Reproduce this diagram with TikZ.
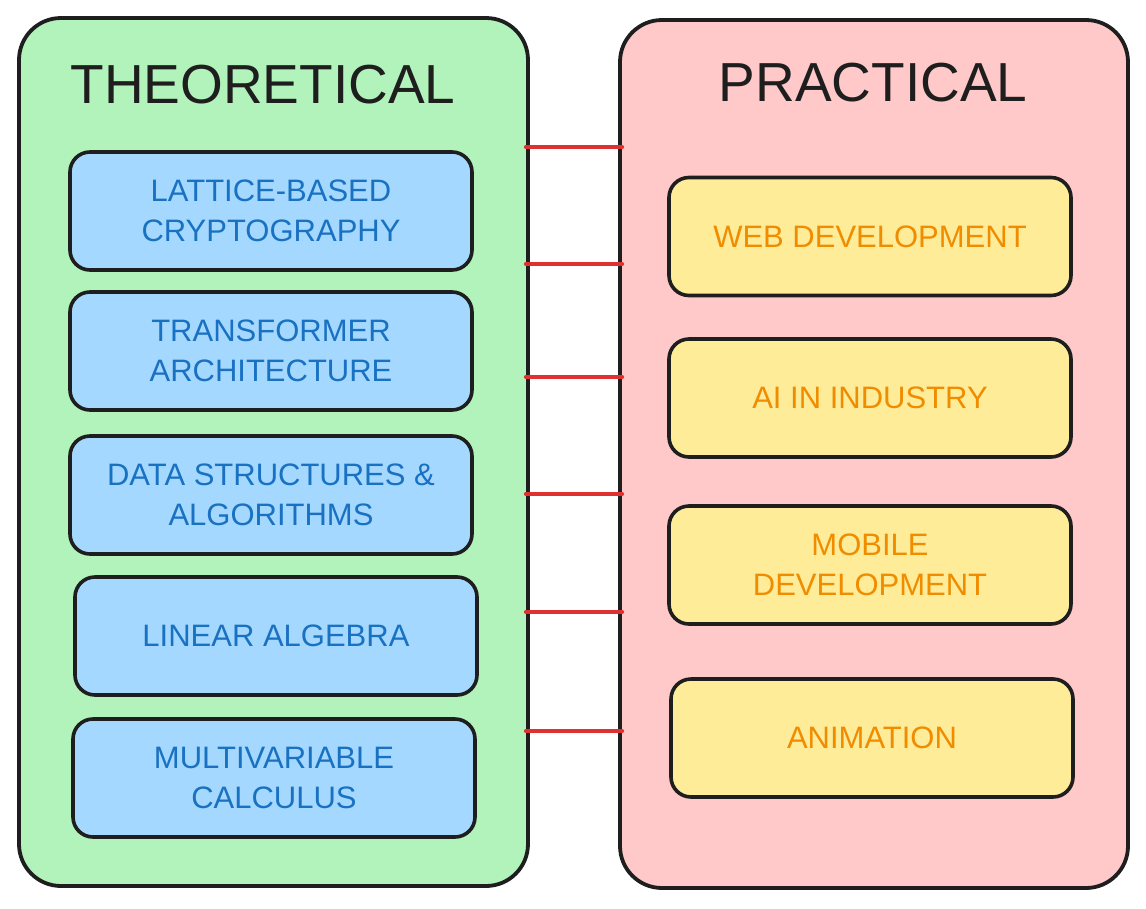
\documentclass[tikz,border=0pt]{standalone}
\usepackage{fontspec}
\setmainfont{Liberation Sans}
\definecolor{gfill}{HTML}{B2F2BB}
\definecolor{pfill}{HTML}{FFC9C9}
\definecolor{bfill}{HTML}{A5D8FF}
\definecolor{yfill}{HTML}{FFEC99}
\definecolor{btext}{HTML}{1971C2}
\definecolor{otext}{HTML}{F08C00}
\definecolor{redline}{HTML}{E03131}
\definecolor{ink}{HTML}{1E1E1E}
\begin{document}
\begin{tikzpicture}[x=1pt,y=-1pt,
  container/.style={draw=ink, line width=3.8pt, rounded corners=42pt, inner sep=0pt},
  topic/.style={draw=ink, line width=3.6pt, rounded corners=20pt, inner sep=0pt,
    minimum width=402pt, minimum height=118pt, align=center,
    font=\fontsize{31}{40}\selectfont},
  theo/.style={topic, fill=bfill, text=btext},
  prac/.style={topic, fill=yfill, text=otext},
  title/.style={inner sep=0pt, text=ink, font=\fontsize{55}{60}\selectfont},
  link/.style={draw=redline, line width=4pt, line cap=round, shorten <=-4pt, shorten >=-4pt}]
\useasboundingbox (0,0) rectangle (1146,908);
\node[container, fill=gfill, minimum width=509pt, minimum height=868pt] (green) at (273.5,452) {};
\node[container, fill=pfill, minimum width=508pt, minimum height=868pt] (pink) at (874,454) {};
\node[title] (ttheo) at (263,85) {THEORETICAL};
\node[title] (tprac) at (873,83) {PRACTICAL};
\node[theo] (b1) at (271,211) {LATTICE-BASED\\CRYPTOGRAPHY};
\node[theo] (b2) at (271,351) {TRANSFORMER\\ARCHITECTURE};
\node[theo] (b3) at (271,495) {DATA STRUCTURES \&\\ALGORITHMS};
\node[theo] (b4) at (276,636) {LINEAR ALGEBRA};
\node[theo] (b5) at (274,778) {MULTIVARIABLE\\CALCULUS};
\node[prac] (y1) at (870,236.5) {WEB DEVELOPMENT};
\node[prac] (y2) at (870,398) {AI IN INDUSTRY};
\node[prac] (y3) at (870,565) {MOBILE\\DEVELOPMENT};
\node[prac] (y4) at (872,738) {ANIMATION};
\foreach \yy in {147,264,377,494,612,731}
  \draw[link] (green.east |- 0,\yy) -- (pink.west |- 0,\yy);
\end{tikzpicture}
\end{document}
